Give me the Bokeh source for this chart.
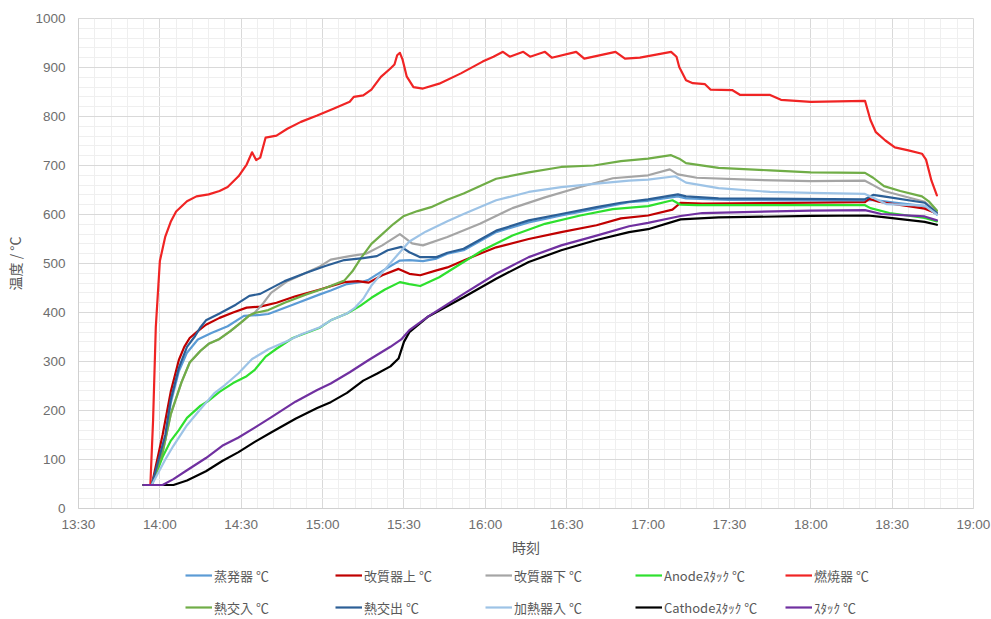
import pandas as pd
from bokeh.plotting import figure
from bokeh.layouts import column
from bokeh.models import FixedTicker, DatetimeTickFormatter, Legend, LegendItem, Range1d
from bokeh.embed import file_html
from bokeh.resources import INLINE

# ---------------- data ----------------
x_tick_labels = ["13:30", "14:00", "14:30", "15:00", "15:30", "16:00", "16:30",
                 "17:00", "17:30", "18:00", "18:30", "19:00"]
y_ticks = [0, 100, 200, 300, 400, 500, 600, 700, 800, 900, 1000]

series_names = ["蒸発器 ℃", "改質器上 ℃", "改質器下 ℃", "Anodeｽﾀｯｸ ℃", "燃焼器 ℃",
                "熱交入 ℃", "熱交出 ℃", "加熱器入 ℃", "Cathodeｽﾀｯｸ ℃", "ｽﾀｯｸ ℃"]

evap_t = ["13:54", "13:57", "14:02", "14:04", "14:07", "14:10", "14:14", "14:19", "14:25", "14:31",
          "14:37", "14:40", "14:49", "14:59", "15:03", "15:09", "15:15", "15:17", "15:23", "15:28:30",
          "15:32", "15:37", "15:42", "15:46", "15:52", "16:04", "16:16", "16:28", "16:41", "16:53",
          "17:00", "17:11", "17:14", "17:30", "18:20", "18:23", "18:30", "18:42", "18:46:30"]
evap_v = [48, 48, 140, 215, 280, 318, 345, 358, 372, 393,
          395, 397, 416, 437, 445, 458, 463, 467, 488, 506,
          507, 505, 510, 520, 527, 564, 584, 598, 612, 625,
          628, 637, 633, 630, 628, 630, 625, 617, 600]

refu_t = ["13:54", "13:57", "14:01", "14:04", "14:07", "14:09", "14:11", "14:14", "14:17", "14:22",
          "14:27", "14:32", "14:37", "14:43", "14:50", "14:59", "15:08", "15:13", "15:17", "15:22",
          "15:28", "15:32", "15:36", "15:42", "15:46", "15:52", "15:58", "16:04", "16:16", "16:28",
          "16:41", "16:50", "17:00", "17:09", "17:12", "17:20", "18:00", "18:20", "18:21:30", "18:25",
          "18:42", "18:46:30"]
refu_v = [48, 48, 150, 238, 303, 330, 348, 362, 375, 389,
          400, 410, 412, 420, 433, 447, 462, 464, 461, 476,
          489, 479, 476, 486, 492, 506, 520, 533, 550, 564,
          578, 592, 598, 610, 624, 622, 624, 625, 632, 626,
          612, 602]

refl_t = ["13:54", "13:57", "14:01", "14:04", "14:08", "14:11", "14:15", "14:18", "14:22", "14:26",
          "14:30", "14:33", "14:35", "14:38", "14:41", "14:47", "14:59", "15:03", "15:10", "15:16",
          "15:22", "15:28:30", "15:33", "15:37", "15:46", "15:58", "16:10", "16:22", "16:35", "16:47",
          "17:00", "17:08", "17:11", "17:18", "17:37", "18:00", "18:20", "18:23", "18:27", "18:42",
          "18:46:30"]
refl_v = [48, 48, 114, 192, 258, 298, 322, 336, 346, 362,
          380, 394, 400, 418, 440, 464, 494, 508, 515, 520,
          537, 560, 541, 537, 554, 581, 613, 635, 656, 674,
          680, 692, 682, 675, 671, 668, 669, 660, 648, 626,
          605]

anode_t = ["13:54", "13:57", "14:01", "14:04", "14:07", "14:10", "14:15", "14:18", "14:22", "14:27",
           "14:32", "14:35", "14:39", "14:43", "14:49", "14:59", "15:03", "15:09", "15:14", "15:18",
           "15:23", "15:28:30", "15:32", "15:36", "15:43", "15:52", "15:59", "16:10", "16:22", "16:35",
           "16:47", "17:00", "17:09", "17:12", "17:18", "18:20", "18:22", "18:29", "18:42", "18:46:30"]
anode_v = [48, 48, 105, 138, 160, 185, 210, 220, 238, 256,
           270, 283, 310, 326, 348, 369, 384, 398, 414, 430,
           447, 462, 458, 454, 472, 503, 527, 557, 581, 598,
           611, 617, 629, 620, 619, 619, 613, 603, 593, 586]

burner_t = ["13:54", "13:56:30", "13:57:30", "13:58:30", "14:00", "14:02", "14:04", "14:06", "14:10",
            "14:13:30", "14:18", "14:22", "14:25", "14:29", "14:32", "14:34", "14:35:30", "14:37",
            "14:39", "14:43", "14:47", "14:52", "14:58", "15:04", "15:10", "15:11:30", "15:15",
            "15:18", "15:21:30", "15:25", "15:26:30", "15:27:30", "15:28:30", "15:29:30", "15:31",
            "15:33:30", "15:37", "15:43", "15:51", "15:59", "16:03", "16:06:30", "16:09", "16:14",
            "16:16:30", "16:22", "16:24:30", "16:33:30", "16:36:30", "16:48", "16:51:30", "16:57",
            "17:08:30", "17:10:30", "17:11:30", "17:14", "17:16:30", "17:21", "17:23", "17:31",
            "17:34", "17:45", "17:49", "18:00", "18:20", "18:22", "18:24", "18:27:30", "18:31",
            "18:36", "18:41", "18:42:30", "18:44:30", "18:46:30"]
burner_v = [48, 48, 180, 370, 505, 555, 585, 606, 627,
            637, 641, 648, 656, 678, 702, 727, 711, 716,
            757, 761, 775, 789, 802, 816, 830, 840, 843,
            855, 881, 898, 906, 925, 930, 916, 882,
            860, 857, 867, 888, 912, 922, 932, 922, 932,
            922, 932, 920, 932, 918, 932, 918, 920,
            932, 922, 901, 874, 868, 866, 855, 854,
            844, 844, 834, 830, 832, 793, 768, 751, 737,
            731, 724, 712, 669, 639]

hxin_t = ["13:54", "13:57", "14:01", "14:04", "14:08", "14:11", "14:15", "14:18", "14:22", "14:26",
          "14:30", "14:33", "14:35", "14:40", "14:46", "14:54", "15:01", "15:08", "15:11", "15:14",
          "15:18", "15:22", "15:26", "15:30", "15:35", "15:40", "15:46", "15:52", "16:04", "16:16",
          "16:28", "16:40", "16:50", "17:00", "17:08:30", "17:11:30", "17:14", "17:26", "17:45", "18:00",
          "18:20", "18:23", "18:27", "18:33", "18:41", "18:43:30", "18:46:30"]
hxin_v = [48, 48, 114, 192, 258, 298, 322, 336, 346, 362,
          380, 394, 399, 405, 420, 437, 450, 465, 484, 510,
          540, 560, 580, 597, 607, 615, 630, 643, 673, 686,
          697, 700, 709, 714, 721, 714, 705, 695, 690, 686,
          685, 675, 658, 648, 637, 627, 608]

hxout_t = ["13:54", "13:57", "14:02", "14:04", "14:07", "14:10", "14:13", "14:15", "14:17", "14:22",
           "14:28", "14:33", "14:37", "14:46", "14:54", "15:01", "15:08", "15:15", "15:20", "15:24",
           "15:29", "15:32", "15:36", "15:42", "15:46", "15:52", "16:04", "16:16", "16:28", "16:41",
           "16:50", "17:00", "17:11", "17:14", "17:26", "18:20", "18:23", "18:28", "18:42", "18:46:30"]
hxout_v = [48, 48, 150, 222, 287, 330, 352, 370, 384, 398,
           416, 434, 438, 464, 481, 495, 507, 511, 515, 527,
           534, 523, 513, 513, 522, 530, 567, 588, 601, 615,
           624, 631, 641, 637, 633, 631, 640, 636, 624, 603]

heater_t = ["13:54", "13:57", "14:02", "14:05", "14:10", "14:15", "14:20", "14:24", "14:29", "14:34",
            "14:40", "14:47", "14:52", "14:59", "15:03", "15:09", "15:12", "15:15", "15:18", "15:23",
            "15:28", "15:32", "15:38", "15:46", "15:52", "16:04", "16:16", "16:28", "16:41", "16:53",
            "17:00", "17:10", "17:14", "17:26", "17:45", "18:00", "18:20", "18:23", "18:28", "18:42",
            "18:46:30"]
heater_v = [48, 48, 100, 128, 170, 203, 235, 252, 276, 305,
            325, 342, 355, 370, 384, 398, 410, 428, 455, 488,
            520, 545, 565, 586, 601, 629, 646, 656, 663, 669,
            671, 678, 665, 654, 646, 644, 642, 634, 621, 618,
            600]

cath_t = ["13:54", "14:05", "14:10", "14:17", "14:23", "14:29", "14:35", "14:41", "14:50", "14:58",
          "15:03", "15:09", "15:15", "15:20", "15:25", "15:28", "15:30", "15:32", "15:39", "15:52",
          "16:04", "16:16", "16:28", "16:41", "16:53", "17:00", "17:12", "17:26", "18:00", "18:21",
          "18:26", "18:42", "18:46:30"]
cath_v = [48, 48, 57, 76, 97, 115, 136, 155, 183, 205,
          217, 236, 261, 275, 290, 306, 340, 360, 392, 431,
          469, 503, 527, 548, 564, 570, 590, 594, 597, 598,
          595, 585, 579]

stack_t = ["13:54", "14:01", "14:05", "14:10", "14:17", "14:23", "14:29", "14:35", "14:41", "14:50",
           "14:58", "15:03", "15:10", "15:17", "15:25", "15:29", "15:32", "15:39", "15:52", "16:04",
           "16:16", "16:28", "16:41", "16:53", "17:00", "17:12", "17:20", "18:00", "18:20", "18:26",
           "18:42", "18:46:30"]
stack_v = [48, 48, 60, 78, 103, 128, 145, 165, 186, 218,
           242, 255, 278, 303, 330, 345, 364, 392, 438, 479,
           513, 537, 557, 576, 583, 597, 603, 608, 609, 601,
           596, 588]

# ---------------- styling ----------------
colors = ["#5B9BD5", "#C00000", "#A5A5A5", "#2EE02E", "#F02424",
          "#70AD47", "#2C5F96", "#9DC3E6", "#000000", "#7030A0"]

DAY = "2024-01-01 "
EPOCH = pd.Timestamp("1970-01-01")


def to_ms(t):
    return (pd.Timestamp(DAY + t) - EPOCH) / pd.Timedelta(milliseconds=1)


series = [(evap_t, evap_v), (refu_t, refu_v), (refl_t, refl_v), (anode_t, anode_v),
          (burner_t, burner_v), (hxin_t, hxin_v), (hxout_t, hxout_v), (heater_t, heater_v),
          (cath_t, cath_v), (stack_t, stack_v)]

x_major = [to_ms(t) for t in x_tick_labels]
x_minor = []
for a, b in zip(x_major[:-1], x_major[1:]):
    step = (b - a) / 5
    x_minor += [a + step * k for k in range(1, 5)]
y_minor = [v for v in range(0, 1001, 20) if v % 100]

# ---------------- main chart ----------------
p = figure(width=991, height=565, x_axis_type="datetime", output_backend="svg",
           toolbar_location=None, min_border_left=78, min_border_right=18,
           min_border_top=18, min_border_bottom=57,
           x_range=Range1d(x_major[0], x_major[-1]), y_range=Range1d(0, 1000))
p.background_fill_color = "white"
p.border_fill_color = "white"
p.outline_line_color = "#D9D9D9"

p.xaxis.ticker = FixedTicker(ticks=x_major, minor_ticks=x_minor)
p.yaxis.ticker = FixedTicker(ticks=y_ticks, minor_ticks=y_minor)
fmt = "%H:%M"
p.xaxis.formatter = DatetimeTickFormatter(microseconds=fmt, milliseconds=fmt, seconds=fmt,
                                          minsec=fmt, minutes=fmt, hourmin=fmt, hours=fmt,
                                          days=fmt, months=fmt, years=fmt)

for ax in (p.xaxis[0], p.yaxis[0]):
    ax.axis_line_color = "#D0D0D0"
    ax.major_tick_line_color = None
    ax.minor_tick_line_color = None
    ax.major_tick_in = 0
    ax.major_tick_out = 0
    ax.minor_tick_in = 0
    ax.minor_tick_out = 0
    ax.major_label_text_font = "Liberation Sans"
    ax.major_label_text_font_size = "13.5px"
    ax.major_label_text_color = "#6E6E6E"
    ax.axis_label_text_font = "Noto Sans CJK JP"
    ax.axis_label_text_font_size = "14px"
    ax.axis_label_text_font_style = "normal"
    ax.axis_label_text_color = "#595959"

p.xaxis.axis_label = "時刻"
p.yaxis.axis_label = "温度 / °C"
p.xaxis.major_label_standoff = 8
p.yaxis.major_label_standoff = 13
p.xaxis.axis_label_standoff = 2
p.yaxis.axis_label_standoff = 7

for g in (p.xgrid[0], p.ygrid[0]):
    g.grid_line_color = "#D9D9D9"
    g.grid_line_width = 1
    g.minor_grid_line_color = "#EFEFEF"
    g.minor_grid_line_width = 1

for (ts, vs), c in zip(series, colors):
    xs = [pd.Timestamp(DAY + t) for t in ts]
    p.line(xs, vs, line_color=c, line_width=2.2, line_join="round", line_cap="round")

# ---------------- legend strip below the chart ----------------
lg = figure(width=991, height=54, output_backend="svg", toolbar_location=None,
            min_border=0, x_range=Range1d(0, 1), y_range=Range1d(0, 1))
lg.axis.visible = False
lg.grid.visible = False
lg.outline_line_color = None
lg.background_fill_color = "white"
lg.border_fill_color = "white"

items = []
for name, c in zip(series_names, colors):
    # legend key only: the line sits outside the strip's visible range
    r = lg.line([2, 3], [2, 2], line_color=c, line_width=2.2)
    items.append(LegendItem(label=name, renderers=[r]))

legend = Legend(items=items, orientation="horizontal", ncols=5, location=(107, 2),
                label_text_font="Noto Sans CJK JP", label_text_font_size="13px",
                label_text_color="#595959", glyph_width=27, glyph_height=20,
                label_standoff=2, label_width=109, label_height=20, spacing=12,
                padding=0, margin=0, border_line_color=None, background_fill_alpha=0)
lg.add_layout(legend)

layout = column(p, lg, spacing=0)
open("out.html", "w").write(file_html(layout, INLINE))
